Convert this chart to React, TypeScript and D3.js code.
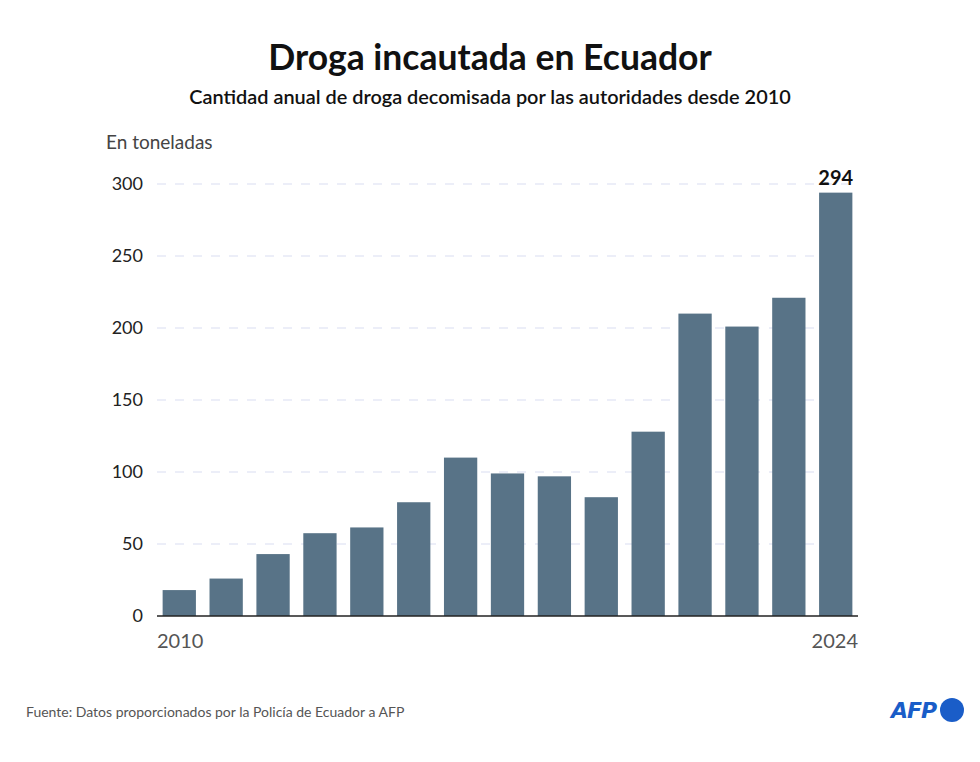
import React from "react";
import * as d3 from "d3";

const years = ["2010","2011","2012","2013","2014","2015","2016","2017","2018","2019","2020","2021","2022","2023","2024"];
const tons = [18, 26, 43, 57.5, 61.5, 79, 110, 99, 97, 82.5, 128, 210, 201, 221, 294];
const yTicks = [0, 50, 100, 150, 200, 250, 300];

const W = 980, H = 762;
const FONT = "'Source Sans Pro', Lato, 'Open Sans', 'Noto Sans', sans-serif";

export default function App() {
  const x = d3.scaleBand<string>().domain(years).range([157, 858]).paddingInner(0.29).paddingOuter(0.12);
  const y = d3.scaleLinear().domain([0, 300]).range([616, 184]);
  const barColor = "#587387";
  return (
    <svg width={W} height={H} style={{ position: "absolute", left: 0, top: 0, background: "#fff" }} fontFamily={FONT}>
      <text x={490} y={70} textAnchor="middle" fontSize={35.5} fontWeight={700} fill="#111">Droga incautada en Ecuador</text>
      <text x={490} y={104} textAnchor="middle" fontSize={19.9} fontWeight={600} fill="#111">Cantidad anual de droga decomisada por las autoridades desde 2010</text>
      <text x={106} y={149} fontSize={19} fill="#444">En toneladas</text>
      {yTicks.map(t => (
        <g key={t}>
          {t > 0 && <line x1={157} x2={858} y1={y(t)} y2={y(t)} stroke="#d9ddf2" strokeWidth={1.2} strokeDasharray="9,9" />}
          <text x={143} y={y(t) + 6} textAnchor="end" fontSize={18} fill="#222">{t}</text>
        </g>
      ))}
      {years.map((yr, i) => (
        <rect key={yr} x={x(yr)} y={y(tons[i])} width={x.bandwidth()} height={y(0) - y(tons[i])} fill={barColor} />
      ))}
      <line x1={157} x2={858} y1={y(0)} y2={y(0)} stroke="#222" strokeWidth={1.5} />
      <text x={(x("2024") as number) + x.bandwidth() / 2} y={y(294) - 8} textAnchor="middle" fontSize={20} fontWeight={700} fill="#111">294</text>
      <text x={157} y={648} fontSize={20} fill="#555">2010</text>
      <text x={858} y={648} textAnchor="end" fontSize={20} fill="#555">2024</text>
      <text x={26} y={717} fontSize={14} fill="#555">Fuente: Datos proporcionados por la Policía de Ecuador a AFP</text>
      <text x={891} y={718} fontSize={22} fontWeight={900} fontStyle="italic" fill="#1a5dc8" fontFamily="'DejaVu Sans', sans-serif" letterSpacing={-1}>AFP</text>
      <circle cx={952} cy={710} r={12} fill="#1a5dc8" />
    </svg>
  );
}
